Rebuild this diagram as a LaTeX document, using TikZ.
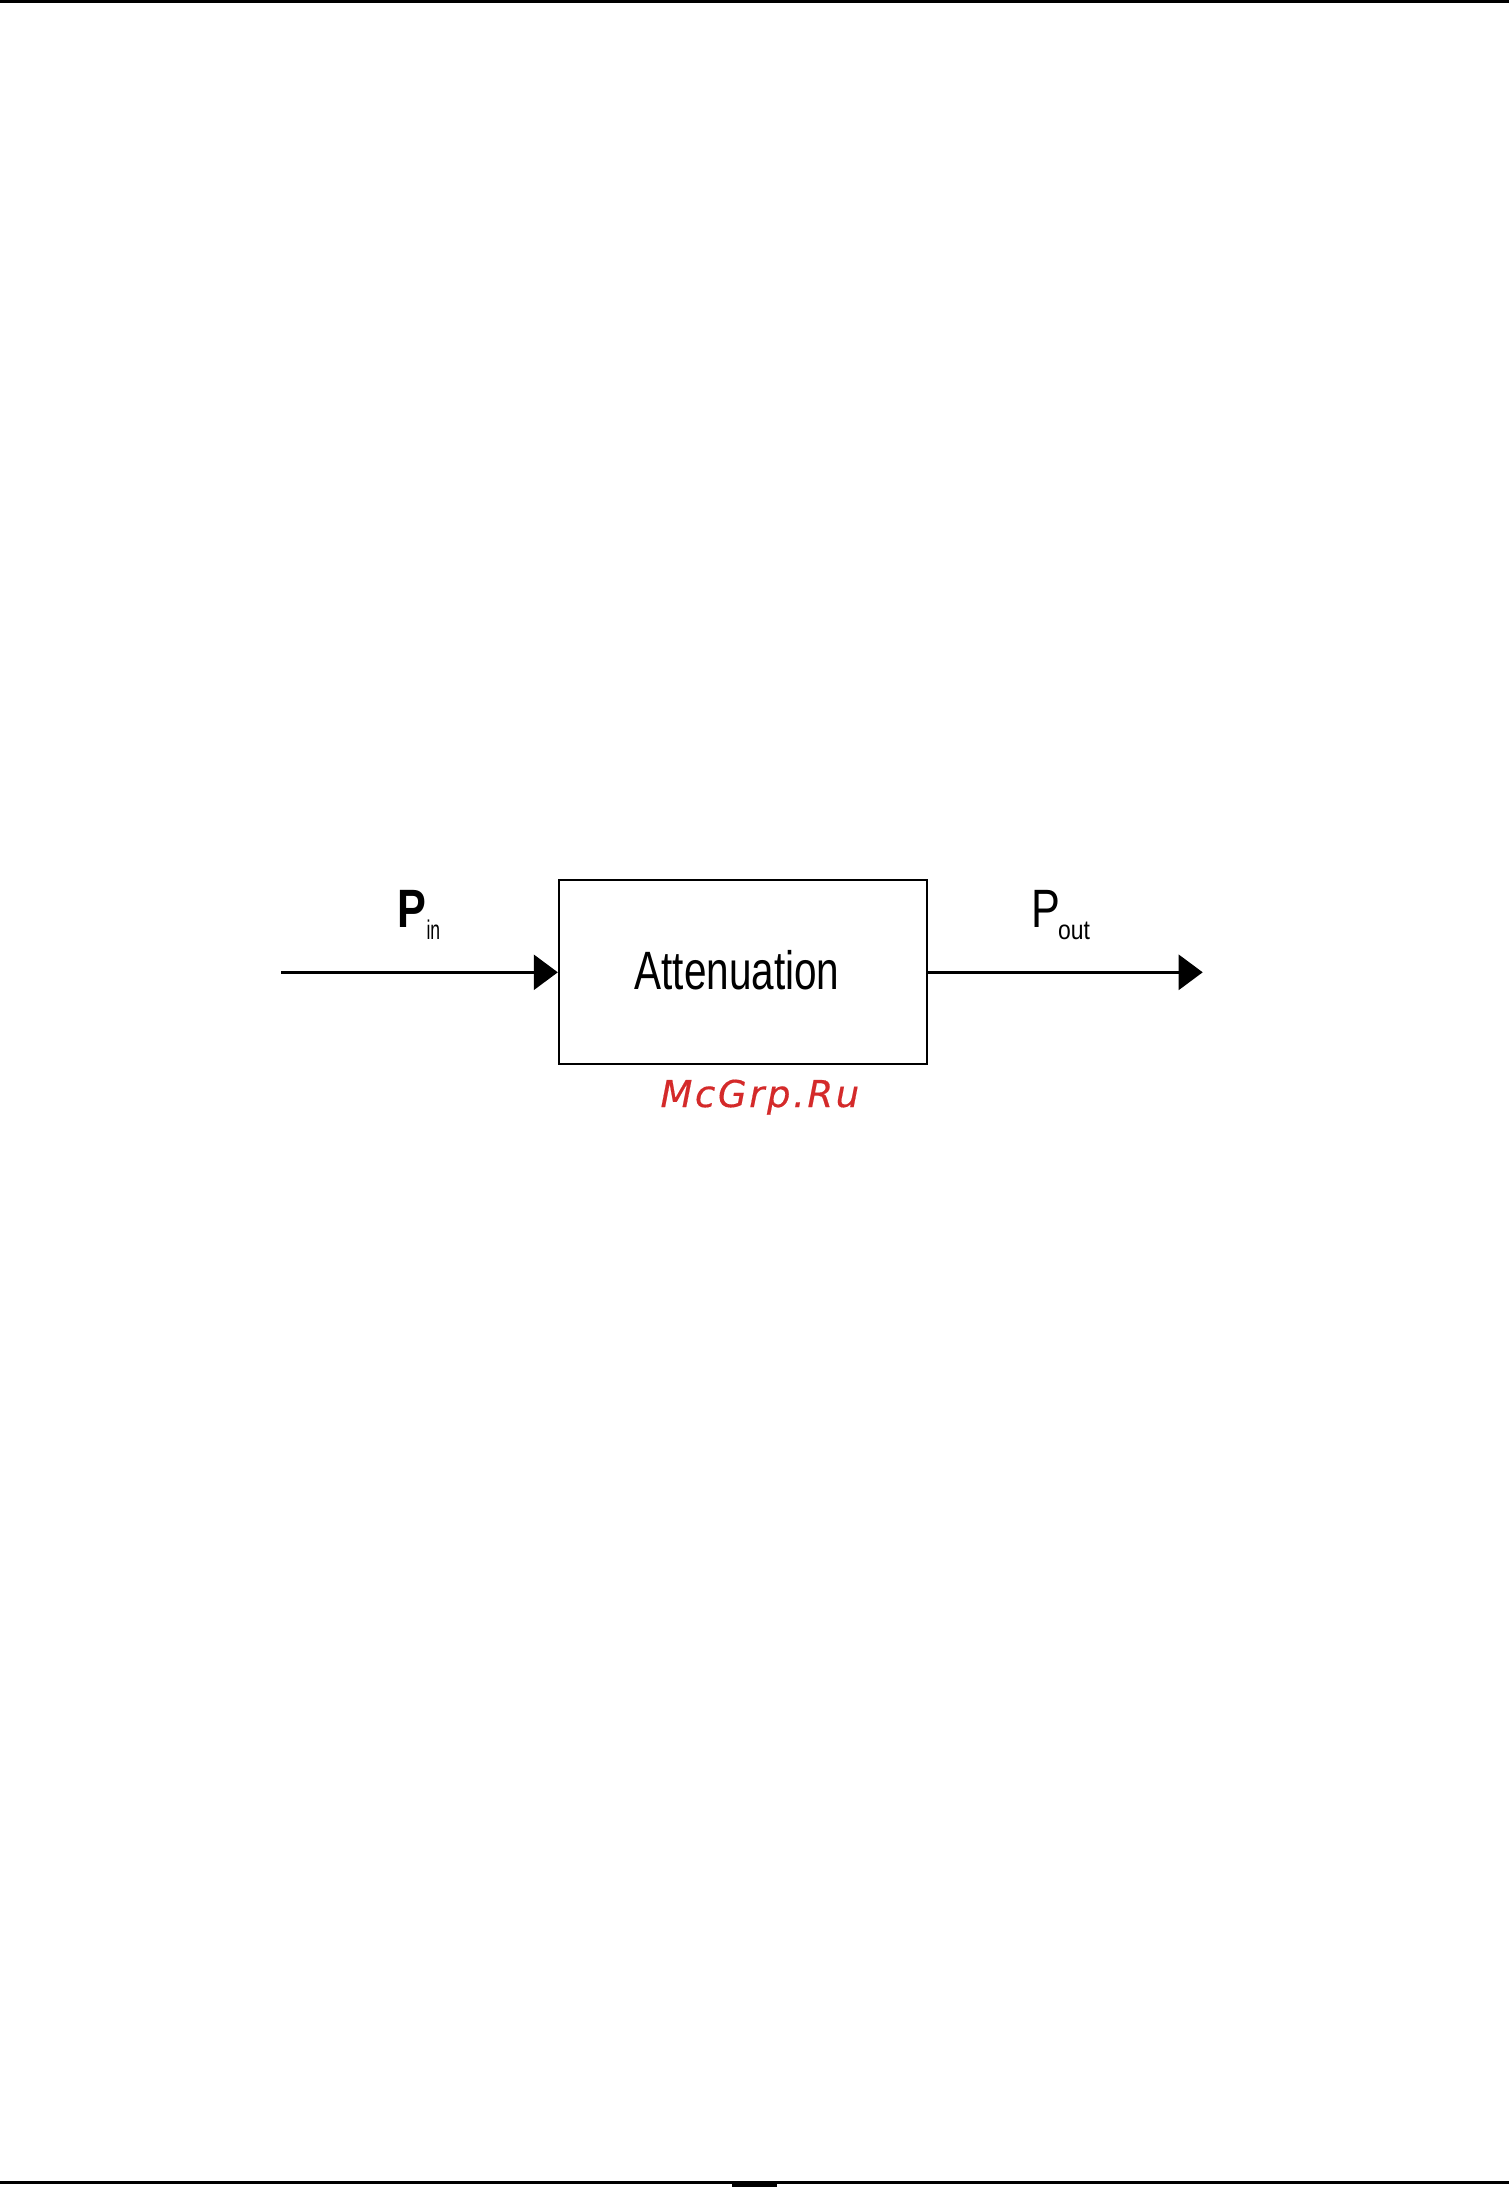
\documentclass[tikz,border=0pt]{standalone}
\usepackage{fontspec}
\usepackage{graphicx}
\setmainfont{Liberation Sans}
\newfontfamily\wmfont[LetterSpace=7,FakeBold=0.35]{DejaVu Sans}
\usetikzlibrary{arrows.meta}
\definecolor{wmred}{HTML}{D42A2A}
\tikzset{
  x=1pt,y=-1pt,
  label text/.style={inner sep=0pt,outer sep=0pt,anchor=base west,text=black},
  blockbox/.style={draw=black,line width=2.2pt,fill=white,inner sep=0pt,outer sep=0pt,minimum width=368pt,minimum height=184pt},
  flow/.style={draw=black,line width=2.7pt,-{Triangle[length=24pt,width=35pt]}},
  rule bar/.style={fill=black,draw=none}
}
\begin{document}
\begin{tikzpicture}
\useasboundingbox[fill=white] (0,0) rectangle (1509,2187);
% page rules
\path[rule bar] (0,0) rectangle (1509,3);
\path[rule bar] (0,2181) rectangle (1509,2184);
\path[rule bar] (732,2181) rectangle (777,2187);
% block
\node[blockbox] (box) at (743.3,972) {};
\node[label text] (atten) at (634.5,989) {\fontsize{54pt}{54pt}\selectfont\scalebox{0.75}[1]{Attenuation}};
% connectors
\coordinate (start) at (281,972.3);
\coordinate (finish) at (1202.7,972.3);
\draw[flow,shorten >=1.5pt] (start) -- (start -| box.west);
\draw[flow] (finish -| box.east) -- (finish);
% labels
\node[label text] (pin) at (397.5,927) {\fontsize{54pt}{54pt}\selectfont\bfseries\scalebox{0.8}[1]{P}};
\node[label text] (pinsub) at (426.5,939) {\fontsize{27pt}{27pt}\selectfont\scalebox{0.65}[1]{in}};
\node[label text] (pout) at (1031,927) {\fontsize{54pt}{54pt}\selectfont\scalebox{0.8}[1]{P}};
\node[label text] (poutsub) at (1058,939) {\fontsize{27pt}{27pt}\selectfont\scalebox{0.85}[1]{out}};
% watermark
\node[label text,text=wmred] (wm) at (660.5,1107) {\fontsize{37pt}{37pt}\wmfont\itshape McGrp.Ru};
\end{tikzpicture}
\end{document}
